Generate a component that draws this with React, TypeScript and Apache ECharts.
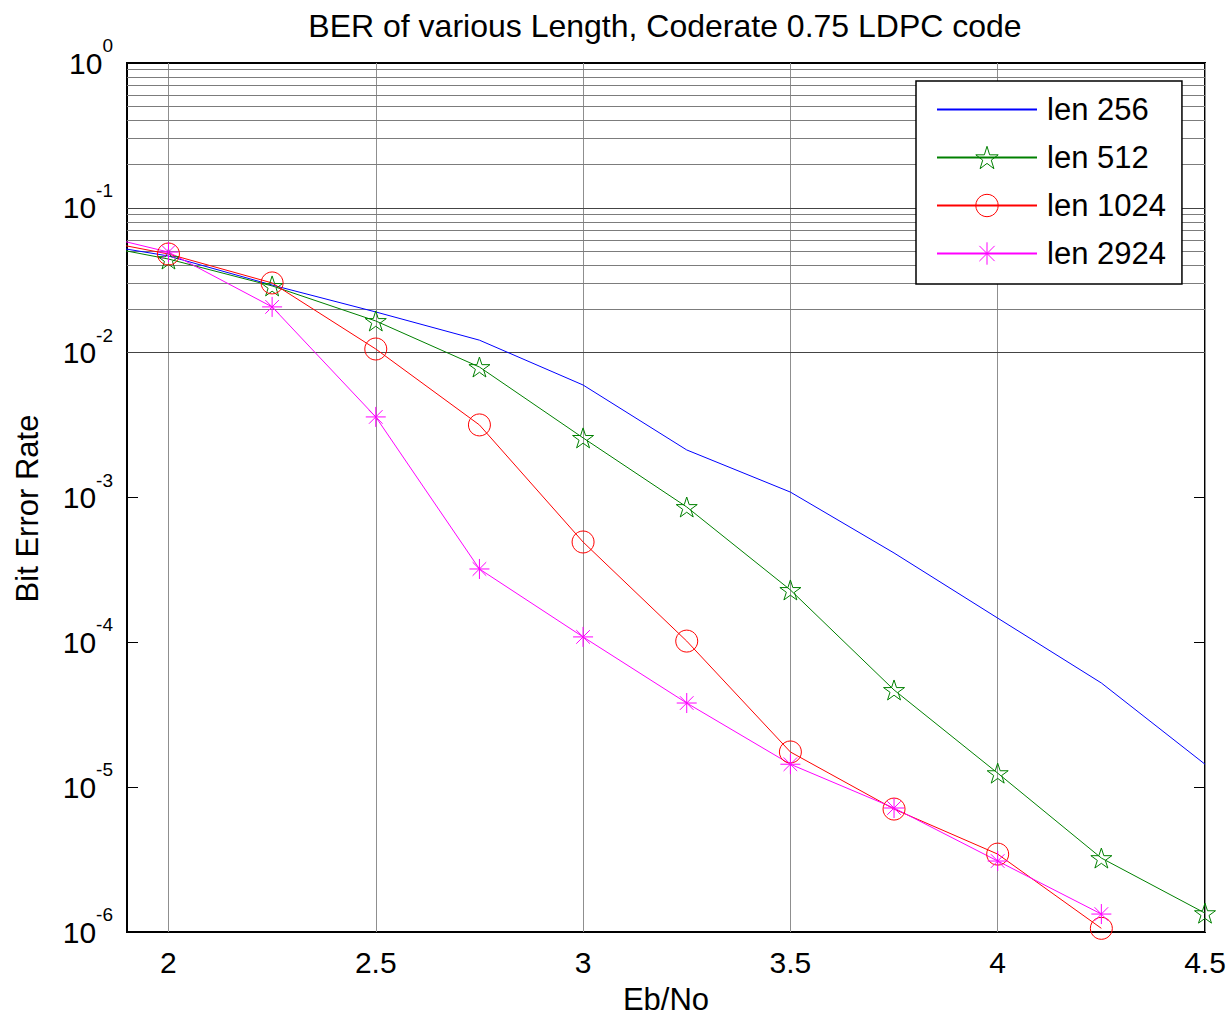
import React, { useEffect, useRef } from "react";
import * as echarts from "echarts";

const ebno = [1.75, 2, 2.25, 2.5, 2.75, 3, 3.25, 3.5, 3.75, 4, 4.25, 4.5];
const len256 = [0.061, 0.0465, 0.0293, 0.0191, 0.0122, 0.00598, 0.00213, 0.00109, 0.000414, 0.000147, 5.24e-5, 1.44e-5];
const len512 = [0.0609, 0.0443, 0.0289, 0.01655, 0.00796, 0.00258, 0.00086, 0.00023, 4.69e-5, 1.25e-5, 3.24e-6, 1.35e-6];
const len1024 = [0.066, 0.048, 0.0303, 0.0106, 0.00317, 0.000493, 0.000102, 1.75e-5, 7.06e-6, 3.45e-6, 1.06e-6];
const len2924 = [0.0738, 0.0495, 0.0207, 0.0036, 0.000321, 0.000109, 3.81e-5, 1.44e-5, 7.18e-6, 3.09e-6, 1.33e-6];

const seriesNames = ["len 256", "len 512", "len 1024", "len 2924"];
const xTicks = [2, 2.5, 3, 3.5, 4, 4.5];
const decadeExps = [-6, -5, -4, -3, -2, -1, 0];
const minorMantissas = [2, 3, 4, 5, 6, 7, 8, 9];

const FONT = "Liberation Sans, Arial, Helvetica, sans-serif";
const STAR = "path://M50,0L61.2,34.5L97.6,34.5L68.2,55.9L79.4,90.5L50,69.1L20.6,90.5L31.8,55.9L2.4,34.5L38.8,34.5Z";
const ASTER = "path://M50,0L50,100M0,50L100,50M16,16L84,84M16,84L84,16";
const CLEAR = "rgba(0,0,0,0)";

function pairs(ys: number[]) {
  return ys.map((y, i) => [ebno[i], y]);
}

export default function App() {
  const ref = useRef<HTMLDivElement>(null);
  useEffect(() => {
    if (!ref.current) return;
    const chart = echarts.init(ref.current, undefined, { renderer: "svg" });

    const gridLines: any[] = [];
    xTicks.forEach((x) => gridLines.push({ xAxis: x, lineStyle: { color: "#8f8f8f", width: 1, type: "solid" } }));
    decadeExps.forEach((e) => {
      if (e > -6 && e < 0) gridLines.push({ yAxis: Math.pow(10, e), lineStyle: { color: "#444", width: 1, type: "solid" } });
      if (e < 0) {
        minorMantissas.forEach((m) =>
          gridLines.push({ yAxis: m * Math.pow(10, e), lineStyle: { color: "#7c7c7c", width: 1, type: "solid" } })
        );
      }
    });

    const option: any = {
      animation: false,
      backgroundColor: "#fff",
      title: {
        text: "BER of various Length, Coderate 0.75 LDPC code",
        left: 660,
        top: 5,
        textAlign: "center",
        textStyle: { fontFamily: FONT, fontSize: 32, fontWeight: "normal", color: "#000" },
      },
      grid: {
        left: 127,
        top: 63,
        width: 1078,
        height: 869,
        containLabel: false,
        outerBoundsMode: "none",
        show: true,
        borderColor: "#000",
        borderWidth: 2,
        backgroundColor: "#fff",
      },
      legend: {
        orient: "vertical",
        left: 916,
        top: 81,
        padding: [13, 16, 15, 20],
        itemWidth: 100,
        itemHeight: 28,
        itemGap: 17,
        backgroundColor: "#fff",
        borderColor: "#000",
        borderWidth: 1.5,
        borderRadius: 0,
        itemStyle: { borderWidth: 1 },
        textStyle: { fontFamily: FONT, fontSize: 31, color: "#000", lineHeight: 30, padding: [0, 0, 0, 5] },
        data: seriesNames,
      },
      xAxis: [
        {
          type: "value",
          min: 1.9,
          max: 4.5,
          name: "Eb/No",
          nameLocation: "middle",
          nameGap: 52,
          nameTextStyle: { fontFamily: FONT, fontSize: 31, lineHeight: 30, color: "#000" },
          axisLine: { show: true, lineStyle: { color: "#000", width: 2 } },
          axisTick: { show: true, inside: true, length: 11, customValues: xTicks, lineStyle: { color: "#000", width: 1 } },
          axisLabel: {
            customValues: xTicks,
            margin: 15,
            fontFamily: FONT,
            fontSize: 30,
            color: "#000",
          },
          splitLine: { show: false },
        },
        {
          type: "value",
          position: "top",
          min: 1.9,
          max: 4.5,
          axisLine: { show: true, lineStyle: { color: "#000", width: 2 } },
          axisTick: { show: true, inside: true, length: 11, customValues: xTicks, lineStyle: { color: "#000", width: 1 } },
          axisLabel: { show: false, customValues: xTicks },
          splitLine: { show: false },
        },
      ],
      yAxis: [
        {
          type: "log",
          logBase: 10,
          min: 1e-6,
          max: 1,
          name: "Bit Error Rate",
          nameLocation: "middle",
          nameGap: 84,
          nameTextStyle: { fontFamily: FONT, fontSize: 31, color: "#000", padding: [0, 0, 0, -22] },
          axisLine: { show: true, lineStyle: { color: "#000", width: 2 } },
          axisTick: { show: true, inside: true, length: 11, lineStyle: { color: "#000", width: 1 } },
          axisLabel: {
            margin: 14,
            formatter: (v: number) => {
              const e = Math.round(Math.log10(v));
              return `{b|10}{e|${e}}`;
            },
            rich: {
              b: { fontFamily: FONT, fontSize: 30, lineHeight: 54, color: "#000" },
              e: { fontFamily: FONT, fontSize: 19, verticalAlign: "top", color: "#000" },
            },
          },
          splitLine: { show: false },
        },
        {
          type: "log",
          logBase: 10,
          min: 1e-6,
          max: 1,
          position: "right",
          axisLine: { show: true, lineStyle: { color: "#000", width: 2 } },
          axisTick: { show: true, inside: true, length: 11, lineStyle: { color: "#000", width: 1 } },
          axisLabel: { show: false },
          splitLine: { show: false },
        },
      ],
      series: [
        {
          name: seriesNames[0],
          type: "line",
          data: pairs(len256),
          symbol: "circle",
          showSymbol: false,
          symbolSize: 1,
          itemStyle: { color: CLEAR, borderColor: CLEAR, borderWidth: 0 },
          lineStyle: { color: "#0000ff", width: 1 },
          z: 3,
          markLine: {
            silent: true,
            z: 1,
            symbol: ["none", "none"],
            label: { show: false },
            emphasis: { disabled: true },
            data: gridLines,
          },
        },
        {
          name: seriesNames[1],
          type: "line",
          data: pairs(len512),
          symbol: STAR,
          symbolKeepAspect: true,
          symbolSize: 21,
          itemStyle: { color: CLEAR, borderColor: "#008000", borderWidth: 1 },
          lineStyle: { color: "#008000", width: 1 },
          z: 3,
        },
        {
          name: seriesNames[2],
          type: "line",
          data: pairs(len1024),
          symbol: "circle",
          symbolSize: 22,
          itemStyle: { color: CLEAR, borderColor: "#ff0000", borderWidth: 1 },
          lineStyle: { color: "#ff0000", width: 1 },
          z: 3,
        },
        {
          name: seriesNames[3],
          type: "line",
          data: pairs(len2924),
          symbol: ASTER,
          symbolSize: 20,
          itemStyle: { color: CLEAR, borderColor: "#ff00ff", borderWidth: 1 },
          lineStyle: { color: "#ff00ff", width: 1 },
          z: 3,
        },
      ],
    };
    chart.setOption(option);
    return () => chart.dispose();
  }, []);
  return (
    <div
      ref={ref}
      style={{ position: "fixed", left: 0, top: 0, width: 1230, height: 1018, background: "#fff" }}
    />
  );
}
